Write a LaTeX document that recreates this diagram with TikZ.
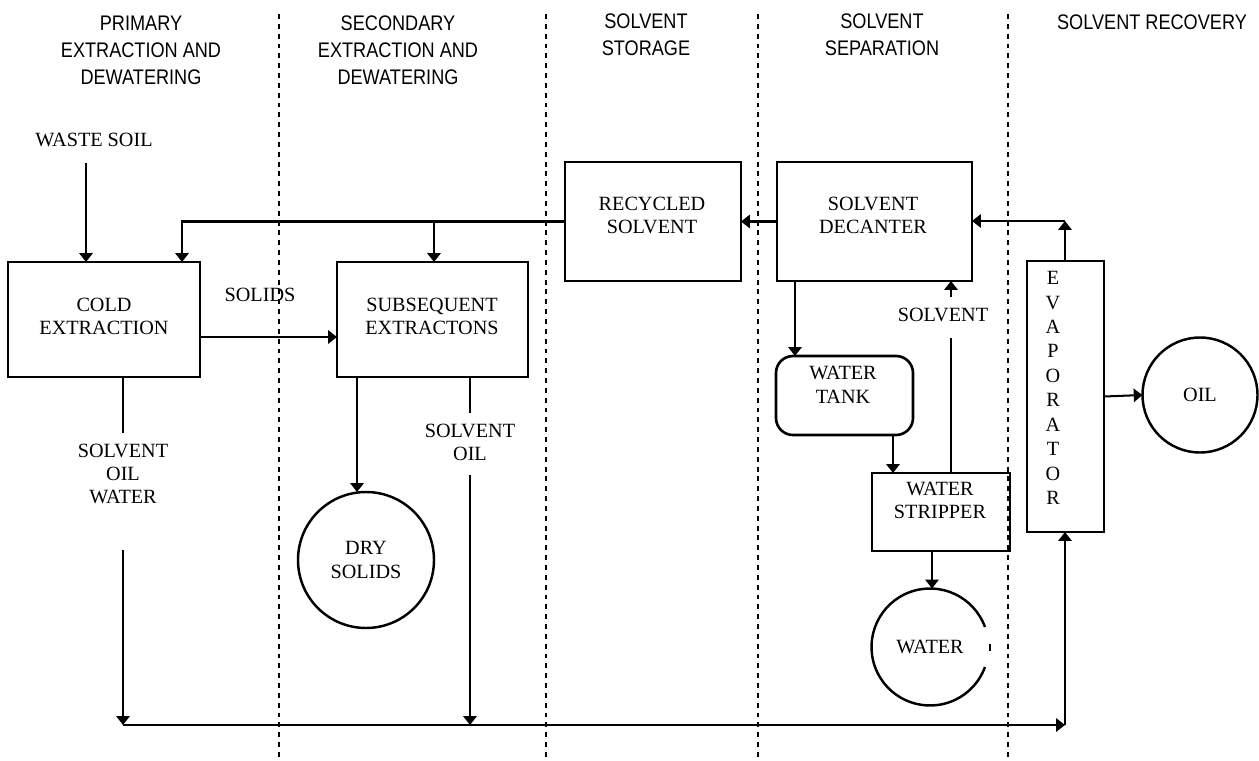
\documentclass[tikz,border=0pt]{standalone}
\usepackage{fontspec}
\setmainfont{Liberation Serif}
\newfontfamily\hdrfont[FakeStretch=0.86]{Liberation Sans}
\usetikzlibrary{arrows.meta}
% one drawing unit = 0.02cm
\def\pxl{0.02cm}

\begin{document}
\begin{tikzpicture}[x=0.02cm, y=-0.02cm,
  every node/.style={inner sep=0pt, outer sep=0pt},
  lbl/.style={font=\fontsize{11.5}{13.3}\selectfont, align=center},
  hdr/.style={font=\hdrfont\fontsize{12}{15.4}\selectfont, align=center},
  box/.style={draw, line width=1.5pt, anchor=north west},
  disc/.style={circle, draw, line width=1.4pt, font=\fontsize{11.5}{13.3}\selectfont, align=center},
  flow/.style={line width=1.15pt},
  arr/.style={flow, -{Triangle[length=5pt,width=7.5pt]}},
  lane/.style={line width=1.6pt, dash pattern=on 2.8pt off 2.8pt},
]
\useasboundingbox (0,0) rectangle (1259,761);

% lane separators
\draw[lane] (279,14) -- (279,761);
\draw[lane] (546,14) -- (546,761);
\draw[lane] (758,14) -- (758,761);
\draw[lane] (1008,14) -- (1008,761);

% lane headings
\node[hdr] (h1) at (141,50) {PRIMARY\\EXTRACTION AND\\DEWATERING};
\node[hdr] (h2) at (398,50) {SECONDARY\\EXTRACTION AND\\DEWATERING};
\node[hdr] (h3) at (646,35) {SOLVENT\\STORAGE};
\node[hdr] (h4) at (882,35) {SOLVENT\\SEPARATION};
\node[hdr] (h5) at (1152,22) {SOLVENT RECOVERY};

% process units
\node[box, minimum width=192*\pxl, minimum height=115*\pxl] (cold) at (8,262) {};
\node[lbl] (coldt) at (104,316.5) {COLD\\EXTRACTION};
\node[box, minimum width=191*\pxl, minimum height=115*\pxl] (subseq) at (337,262) {};
\node[lbl] (subseqt) at (432,316.5) {SUBSEQUENT\\EXTRACTONS};
\node[box, minimum width=176*\pxl, minimum height=119*\pxl] (recyc) at (565,162) {};
\node[lbl] (recyct) at (652,215.5) {RECYCLED\\SOLVENT};
\node[box, minimum width=195*\pxl, minimum height=119*\pxl] (decant) at (777,162) {};
\node[lbl] (decantt) at (873,215.5) {SOLVENT\\DECANTER};
\node[box, rounded corners=0.34cm, minimum width=137*\pxl, minimum height=79*\pxl] (tank) at (776,356) {};
\node[lbl] (tankt) at (843,385) {WATER\\TANK};
\node[box, minimum width=138*\pxl, minimum height=78*\pxl] (strip) at (872,473) {};
\node[lbl] (stript) at (940,500.5) {WATER\\STRIPPER};
\node[box, minimum width=77*\pxl, minimum height=271*\pxl] (evap) at (1027,261) {};
\node[font=\fontsize{11.5}{13.9}\selectfont, align=center] (evapt) at (1053,388)
  {E\\V\\A\\P\\O\\R\\A\\T\\O\\R};

% products
\node[disc, minimum size=136*\pxl] (dry) at (366,560) {DRY\\SOLIDS};
\node[disc, minimum size=115*\pxl] (oil) at (1200,395) {OIL};
\node[circle, minimum size=117*\pxl, font=\fontsize{11.5}{13.3}\selectfont] (water) at (930,647) {WATER};
\draw[line width=1.4pt] (water.center) ++(20:1.17cm) arc[start angle=20, end angle=340, radius=1.17cm];
\draw[line width=1.2pt] (water.center) ++(1.2cm,0.06cm) -- ++(0,-0.14cm);

% stream labels
\node[lbl] (waste) at (94,140) {WASTE SOIL};
\node[lbl] (solids) at (260,295) {SOLIDS};
\node[lbl] (mix1) at (123,474) {SOLVENT\\OIL\\WATER};
\node[lbl] (mix2) at (470,442.5) {SOLVENT\\OIL};
\node[lbl] (solv) at (943,315) {SOLVENT};

% junction points
\coordinate (wtop) at (86,163);
\coordinate (bl) at (123,725);
\coordinate (br) at (1065,725);
\coordinate (er) at (1065,221);

% feed and solids path
\draw[arr] (wtop) -- (wtop |- cold.north);
\draw[arr] (cold.east |- 0,337) -- (subseq.west |- 0,337);
\draw[arr] (subseq.south -| 357,0) -- (dry.north -| 357,0);

% recycled solvent return
\draw[arr] (recyc.west) -- (recyc.west -| 182,0) -- (cold.north -| 182,0);
\draw[arr] (recyc.west -| 434,0) -- (subseq.north -| 434,0);
\draw[arr] (decant.west) -- (recyc.east);

% extract streams to the evaporator
\draw[flow] (cold.south -| bl) -- (bl |- 0,433);
\draw[arr] (bl |- 0,550) -- (bl);
\draw[flow] (subseq.south -| 470,0) -- (470,413);
\draw[arr] (470,475) -- (bl -| 470,0);
\draw[arr] (bl) -- (br);
\draw[arr] (br) -- (evap.south -| br);

% evaporator outlets
\draw[arr] (evap.north -| er) -- (er);
\draw[arr] (er) -- (decant.east |- er);
\draw[arr] (evap.east) -- (oil.west);

% water separation
\draw[arr] (decant.south -| 795,0) -- (tank.north -| 795,0);
\draw[arr] (tank.south -| 893,0) -- (strip.north -| 893,0);
\draw[arr] (strip.south -| 932,0) -- (water.north -| 932,0);
\draw[flow] (strip.north -| 951,0) -- (951,338);
\draw[arr] (951,297) -- (decant.south -| 951,0);
\end{tikzpicture}
\end{document}
